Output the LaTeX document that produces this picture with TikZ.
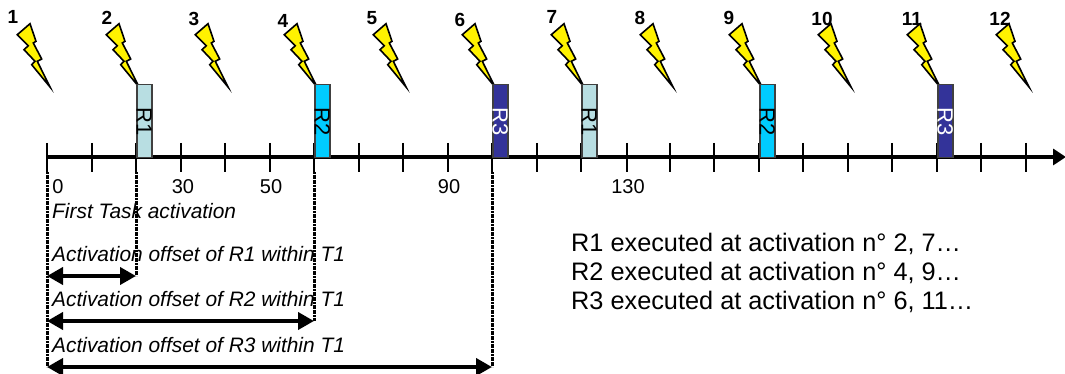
\documentclass[tikz,border=0pt]{standalone}
\usepackage{fontspec}
\setmainfont{Liberation Sans}
\usetikzlibrary{arrows.meta}
\definecolor{runnableA}{HTML}{B8DEE2}
\definecolor{runnableB}{HTML}{00CCFF}
\definecolor{runnableC}{HTML}{333399}
\tikzset{
	runnable/.style={draw=black!75, line width=1.5pt, anchor=north west, inner sep=0pt, minimum width=15pt, minimum height=73pt},
	runlabel/.style={rotate=-90, inner sep=0pt, font=\fontsize{22}{22}\selectfont},
	tickmark/.style={line width=1.5pt},
	timeaxis/.style={line width=3.6pt, -{Triangle[length=13pt,width=16pt]}},
	dropline/.style={line width=3pt, dash pattern=on 2pt off 0.6pt},
	offsetarrow/.style={line width=3.8pt, {Triangle[length=16pt,width=17pt]}-{Triangle[length=16pt,width=17pt]}},
	activation/.style={font=\bfseries\fontsize{19}{19}\selectfont, inner sep=0pt},
	timelabel/.style={font=\fontsize{20}{20}\selectfont, inner sep=0pt},
	offsetlabel/.style={font=\itshape\fontsize{20.9}{20.9}\selectfont, anchor=west, inner sep=0pt},
	summary/.style={font=\fontsize{25.3}{25.3}\selectfont, anchor=west, inner sep=0pt},
	bolt/.pic={
		\draw [fill=yellow, line width=1.6pt, line join=miter] (-32.7,-52.3) -- (-20,-63.3) -- (-14,-45.7) -- (-16.7,-44) -- (-8.3,-28) -- (-12.7,-25.7) -- (0,0) -- (-18.3,-22.3) -- (-15,-25.7) -- (-26,-37.3) -- (-21.7,-41.3) -- cycle;
	}
}
\begin{document}
\begin{tikzpicture}[x=1pt, y=-1pt]
	\useasboundingbox (0,0) rectangle (1065,374);
	% lightning bolts and their numbers
	\foreach \tipx/\num/\numx/\numy in {50/1/13/17, 139/2/107/18, 228/3/194/19, 317/4/283/21, 406/5/372/18, 495/6/460/20, 584/7/552/17, 673/8/640/18, 762/9/729/18, 851/10/822/19, 940/11/912/19, 1029/12/1000/19} {
		\pic at (\tipx,87) {bolt};
		\node (act\num) [activation] at (\numx,\numy) {\num};
	}
	% time axis
	\coordinate (axisstart) at (47,157);
	\coordinate (axisend) at (1066,157);
	\foreach \tickx in {47,92,136,181,225,270,314,359,403,448,492,537,581,627,670,714,759,803,848,892,937,981,1026} {
		\draw [tickmark] (\tickx,143) -- (\tickx,172);
	}
	\draw [timeaxis] (axisstart) -- (axisend);
	% runnables
	\node (rA) [runnable, fill=runnableA] at (136,84) {};
	\node (rB) [runnable, fill=runnableB] at (314,84) {};
	\node (rC) [runnable, fill=runnableC] at (492,84) {};
	\node (rD) [runnable, fill=runnableA] at (581,84) {};
	\node (rE) [runnable, fill=runnableB] at (759,84) {};
	\node (rF) [runnable, fill=runnableC] at (937,84) {};
	\node [runlabel] at (rA) {R1};
	\node [runlabel] at (rB) {R2};
	\node [runlabel, text=white] at (rC) {R3};
	\node [runlabel] at (rD) {R1};
	\node [runlabel] at (rE) {R2};
	\node [runlabel, text=white] at (rF) {R3};
	% time values
	\node (t0) [timelabel] at (58,187) {0};
	\node (t30) [timelabel] at (183,187) {30};
	\node (t50) [timelabel] at (271,187) {50};
	\node (t90) [timelabel] at (449,187) {90};
	\node (t130) [timelabel] at (628,187) {130};
	% offsets
	\node (first) [offsetlabel] at (52,211) {First Task activation};
	\node (offA) [offsetlabel] at (52,254) {Activation offset of R1 within T1};
	\node (offB) [offsetlabel] at (52,299) {Activation offset of R2 within T1};
	\node (offC) [offsetlabel] at (52,345) {Activation offset of R3 within T1};
	\coordinate (startA) at (47,276);
	\coordinate (startB) at (47,321);
	\coordinate (startC) at (47,367);
	\coordinate (endA) at (136,276);
	\coordinate (endB) at (314,321);
	\coordinate (endC) at (492,367);
	\draw [dropline] (47,172) -- (startC);
	\draw [dropline] (136,172) -- (endA);
	\draw [dropline] (314,172) -- (endB);
	\draw [dropline] (492,172) -- (endC);
	\draw [offsetarrow] (startA) -- (endA);
	\draw [offsetarrow] (startB) -- (endB);
	\draw [offsetarrow] (startC) -- (endC);
	% summary
	\node (sumA) [summary] at (571,244) {R1 executed at activation n° 2, 7…};
	\node (sumB) [summary] at (571,273) {R2 executed at activation n° 4, 9…};
	\node (sumC) [summary] at (571,302) {R3 executed at activation n° 6, 11…};
\end{tikzpicture}
\end{document}
